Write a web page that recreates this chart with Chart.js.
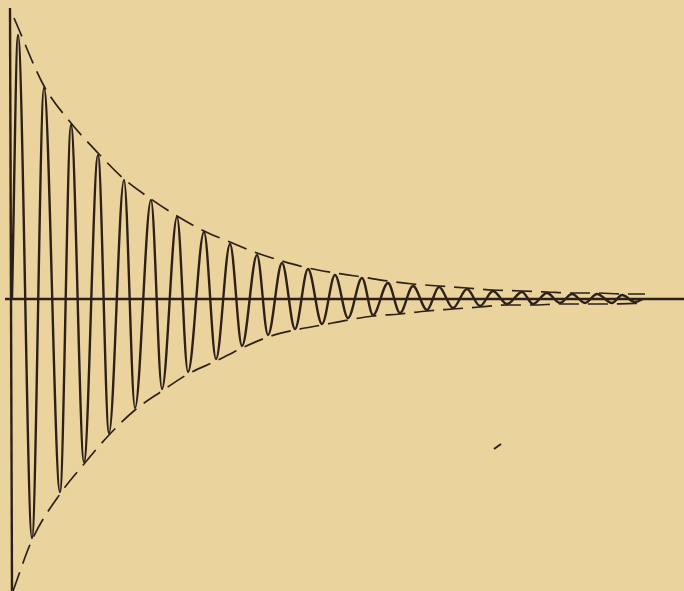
<!DOCTYPE html>
<html>
<head>
<meta charset="utf-8">
<script src="https://cdn.jsdelivr.net/npm/chart.js@4.4.1/dist/chart.umd.min.js"></script>
<style>
  html, body { margin: 0; padding: 0; background: #ebd39d; }
  canvas { display: block; }
</style>
</head>
<body>
<canvas id="chart" width="684" height="591"></canvas>
<script>
// Damped oscillation: extreme points (peak, trough, peak, ...)
const waveX = [12, 18, 32, 44, 60, 71, 84, 98, 109, 124, 135, 151, 162, 177, 188, 204, 216,
    230, 242, 257, 268, 282, 295, 308, 322, 335, 348, 362, 373, 388, 400, 413, 427, 439,
    453, 467, 480, 493, 507, 522, 533, 547, 560, 572, 585, 597, 612, 622, 635, 643];
const waveY = [0, 264, -239, 211, -193, 174, -163, 144, -134, 119, -109, 99, -90, 82, -73, 67, -60,
    55, -47, 44, -36, 36, -30, 30, -25, 24, -19, 21, -16, 16, -14, 13, -11, 12,
    -9, 10, -7, 8, -5, 7, -5, 6, -4, 5, -4, 5, -4, 4, -3, 0];

// Dashed envelope curves
const upperEnvX = [14, 44, 71, 98, 124, 151, 177, 204, 230, 257, 282, 308, 335, 362, 388, 413, 439, 467, 493, 522, 547, 572, 597, 622, 645];
const upperEnvY = [281, 213, 176, 146, 120, 100, 83, 68, 57, 46, 38, 31, 26, 22, 18, 15, 13, 11, 9, 8, 7, 6, 6, 5, 5];
const lowerEnvX = [13, 32, 60, 84, 109, 135, 162, 188, 216, 242, 268, 295, 322, 348, 373, 400, 427, 453, 480, 507, 533, 560, 585, 612, 645];
const lowerEnvY = [-292, -241, -195, -165, -136, -111, -92, -75, -62, -49, -38, -31, -26, -21, -17, -15, -12, -10, -8, -6, -6, -5, -5, -5, -4];

// Axes of the drawing
const vAxisX = [10, 12];
const vAxisY = [291, -292];
const hAxisX = [5, 684];
const hAxisY = [0, 0];

// small stray mark on the paper
const markX = [494, 501];
const markY = [-150, -145];

const ink = '#2c2018';

function points(xs, ys) {
    return xs.map((x, i) => ({ x: x, y: ys[i] }));
}

function lineSet(xs, ys, width, extra) {
    return Object.assign({
        data: points(xs, ys),
        showLine: true,
        borderColor: ink,
        borderWidth: width,
        pointRadius: 0,
        fill: false
    }, extra || {});
}

new Chart(document.getElementById('chart').getContext('2d'), {
    type: 'scatter',
    data: {
        datasets: [
            lineSet(hAxisX, hAxisY, 2.6),
            lineSet(vAxisX, vAxisY, 2.4),
            lineSet(upperEnvX, upperEnvY, 1.7, { cubicInterpolationMode: 'monotone', borderDash: [20, 9] }),
            lineSet(lowerEnvX, lowerEnvY, 1.7, { cubicInterpolationMode: 'monotone', borderDash: [20, 9] }),
            lineSet(waveX, waveY, 2.4, { cubicInterpolationMode: 'monotone' }),
            lineSet(markX, markY, 2)
        ]
    },
    options: {
        responsive: false,
        animation: false,
        layout: { padding: 0 },
        plugins: {
            legend: { display: false },
            tooltip: { enabled: false }
        },
        scales: {
            x: { type: 'linear', min: 0, max: 684, display: false },
            y: { type: 'linear', min: -292, max: 299, display: false }
        }
    }
});
</script>
</body>
</html>
